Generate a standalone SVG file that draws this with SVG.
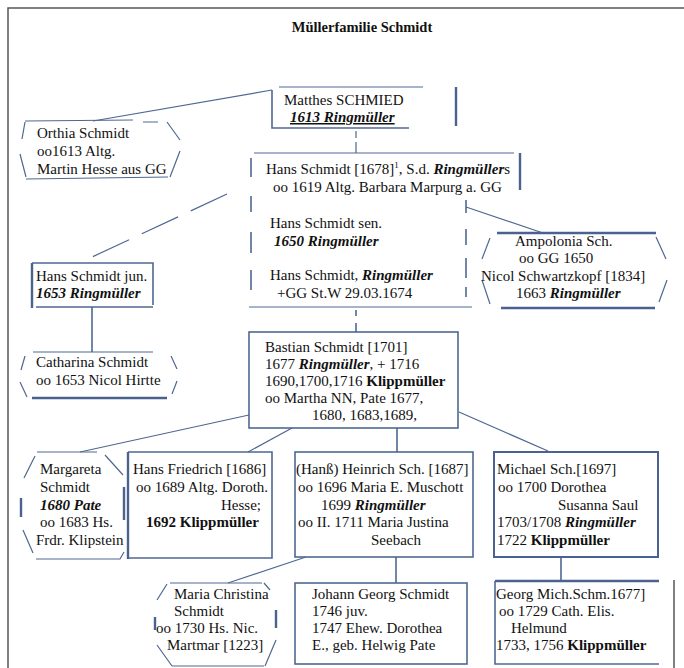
<svg xmlns="http://www.w3.org/2000/svg" width="684" height="668" viewBox="0 0 684 668">
<style>
.ln{stroke:#4f6891;stroke-width:1.2;fill:none}
.bx{stroke:#4f6891;stroke-width:1.6;fill:none}
.tk{stroke:#4a6290;stroke-width:2.4;fill:none}
.fr{stroke:#555;stroke-width:1.5;fill:none}
.t{font-family:"Liberation Serif","Times New Roman",serif;font-size:15px;fill:#111}
.bi{font-weight:bold;font-style:italic}
.b{font-weight:bold}
</style>
<rect width="684" height="668" fill="#fff"/>
<g id="frame">
<path class="fr" d="M8 668 V8 H684"/>
<path class="fr" d="M674 580 V668"/>
</g>
<text id="title" class="t b" x="362" y="32" font-size="14.5" text-anchor="middle" style="font-size:14.5px">Müllerfamilie Schmidt</text>
<g id="connectors">
<path class="ln" d="M272 90 L93 121"/>
<path class="ln" d="M356 131 V138 M356 142 V153"/>
<path class="ln" d="M227 194 L92 257" stroke-dasharray="40 14"/>
<path class="ln" d="M466 207 L543 233"/>
<path class="bx" d="M356 310 V316 M356 323 V332"/>
<path class="bx" d="M92 307 V352"/>
<path class="ln" d="M249 415 L80 452"/>
<path class="ln" d="M292 428 L248 452"/>
<path class="bx" d="M397 428 V452"/>
<path class="ln" d="M459 412 L548 451"/>
<path class="ln" d="M306 557 L228 583"/>
<path class="bx" d="M396 557 V583"/>
<path class="bx" d="M561 557 V581"/>
</g>
<g id="matthes">
<path class="ln" d="M279 87 H423"/>
<path class="bx" d="M272 90 V128 H409"/>
<path class="tk" d="M456 87 V126"/>
<text class="t" x="284" y="105">Matthes SCHMIED</text>
<text class="t bi" x="290" y="122" text-decoration="underline">1613 Ringmüller</text>
</g>
<g id="orthia">
<path class="ln" d="M25 121 L133 120 M143 122 H158 M167 122 L180 140 M180 151 L170 177 M26 179 L168 177 M25 122 L22 139 M20 154 L26 177"/>
<text class="t" x="37" y="138">Orthia Schmidt</text>
<text class="t" x="37" y="156">oo1613 Altg.</text>
<text class="t" x="37" y="174">Martin Hesse aus GG</text>
</g>
<g id="hans1678">
<path class="ln" d="M254 153 H514"/>
<path class="tk" d="M520 153 V190"/>
<path class="bx" d="M251 158 V177 M251 196 V212 M251 232 V253 M251 270 V290"/>
<path class="bx" d="M466 200 V213 M466 229 V245 M466 258 V278 M466 287 V297"/>
<path class="ln" d="M249 307 H472"/>
<text class="t" x="266" y="174">Hans Schmidt [1678]<tspan font-size="9" dy="-6">1</tspan><tspan dy="6">, S.d. </tspan><tspan class="bi">Ringmüller</tspan>s</text>
<text class="t" x="273" y="192">oo 1619 Altg. Barbara Marpurg a. GG</text>
<text class="t" x="270" y="228">Hans Schmidt sen.</text>
<text class="t bi" x="274" y="246">1650 Ringmüller</text>
<text class="t" x="270" y="280">Hans Schmidt, <tspan class="bi">Ringmüller</tspan></text>
<text class="t" x="277" y="298">+GG St.W 29.03.1674</text>
</g>
<g id="ampolonia">
<path class="tk" d="M497 233 H656 M501 308 H655"/>
<path class="ln" d="M490 238 L482 259 M482 280 L490 304 M656 237 L666 259 M667 280 L659 302"/>
<text class="t" x="515" y="246">Ampolonia Sch.</text>
<text class="t" x="519" y="263">oo GG 1650</text>
<text class="t" x="481" y="281">Nicol Schwartzkopf [1834]</text>
<text class="t" x="516" y="298">1663 <tspan class="bi">Ringmüller</tspan></text>
</g>
<g id="hansjun">
<path class="bx" d="M32 263 H153 V305 M36 307 H153"/>
<path class="tk" d="M32 263 V308"/>
<text class="t" x="36" y="281">Hans Schmidt jun.</text>
<text class="t bi" x="36" y="298">1653 Ringmüller</text>
</g>
<g id="catharina">
<path class="ln" d="M33 352 H153 M25 356 L21 370 M20 382 L27 397 M171 356 L177 369 M177 381 L172 394"/>
<path class="tk" d="M32 398 H167"/>
<text class="t" x="36" y="367">Catharina Schmidt</text>
<text class="t" x="36" y="385">oo 1653 Nicol Hirtte</text>
</g>
<g id="bastian">
<rect class="bx" x="249" y="332" width="209" height="96"/>
<text class="t" x="265" y="352">Bastian Schmidt [1701]</text>
<text class="t" x="265" y="369">1677 <tspan class="bi">Ringmüller</tspan>, + 1716</text>
<text class="t" x="265" y="386">1690,1700,1716 <tspan class="b">Klippmüller</tspan></text>
<text class="t" x="265" y="403">oo Martha NN, Pate 1677,</text>
<text class="t" x="312" y="420">1680, 1683,1689,</text>
</g>
<g id="margareta">
<path class="ln" d="M37 452 H97 M35 456 L24 478 M23 530 L33 553 M36 559 H120 L124 552 M105 455 L123 475"/>
<path class="tk" d="M21 498 V517 M124 487 V520"/>
<text class="t" x="40" y="474">Margareta</text>
<text class="t" x="40" y="492">Schmidt</text>
<text class="t bi" x="40" y="510">1680 Pate</text>
<text class="t" x="40" y="527">oo 1683 Hs.</text>
<text class="t" x="36" y="545">Frdr. Klipstein</text>
</g>
<g id="hansfriedrich">
<path class="bx" d="M128 452 H272 V558 H128"/>
<path class="tk" d="M128 452 V559"/>
<text class="t" x="133" y="474">Hans Friedrich [1686]</text>
<text class="t" x="136" y="492">oo 1689 Altg. Doroth.</text>
<text class="t" x="221" y="510">Hesse;</text>
<text class="t b" x="146" y="527">1692 Klippmüller</text>
</g>
<g id="heinrich">
<rect class="bx" x="295" y="452" width="178" height="105"/>
<text class="t" x="296" y="474">(Hanß) Heinrich Sch. [1687]</text>
<text class="t" x="298" y="492">oo 1696 Maria E. Muschott</text>
<text class="t" x="321" y="510">1699 <tspan class="bi">Ringmüller</tspan></text>
<text class="t" x="298" y="527">oo II. 1711 Maria Justina</text>
<text class="t" x="371" y="545">Seebach</text>
</g>
<g id="michael">
<rect class="tk" x="494" y="452" width="164" height="105" style="stroke-width:2"/>
<text class="t" x="497" y="474">Michael Sch.[1697]</text>
<text class="t" x="498" y="492">oo 1700 Dorothea</text>
<text class="t" x="558" y="510">Susanna Saul</text>
<text class="t" x="497" y="527">1703/1708 <tspan class="bi">Ringmüller</tspan></text>
<text class="t" x="497" y="545">1722 <tspan class="b">Klippmüller</tspan></text>
</g>
<g id="mariachristina">
<path class="ln" d="M170 583 H262 M167 584 L157 600 M157 645 L172 666 M172 666 H264 M264 583 L270 590 M276 640 L265 666"/>
<path class="tk" d="M155 617 V630 M276 610 V628"/>
<text class="t" x="174" y="599">Maria Christina</text>
<text class="t" x="174" y="616">Schmidt</text>
<text class="t" x="156" y="633">oo 1730 Hs. Nic.</text>
<text class="t" x="167" y="650">Martmar [1223]</text>
</g>
<g id="johann">
<rect class="bx" x="295" y="583" width="172" height="81"/>
<text class="t" x="312" y="599">Johann Georg Schmidt</text>
<text class="t" x="312" y="616">1746 juv.</text>
<text class="t" x="312" y="633">1747 Ehew. Dorothea</text>
<text class="t" x="312" y="650">E., geb. Helwig Pate</text>
</g>
<g id="georg">
<path class="bx" d="M495 581 V664 H659"/>
<path class="tk" d="M495 581 H659"/>
<text class="t" x="496" y="599">Georg Mich.Schm.1677]</text>
<text class="t" x="499" y="616">oo 1729 Cath. Elis.</text>
<text class="t" x="511" y="633">Helmund</text>
<text class="t" x="496" y="650">1733, 1756 <tspan class="b">Klippmüller</tspan></text>
</g>
</svg>
